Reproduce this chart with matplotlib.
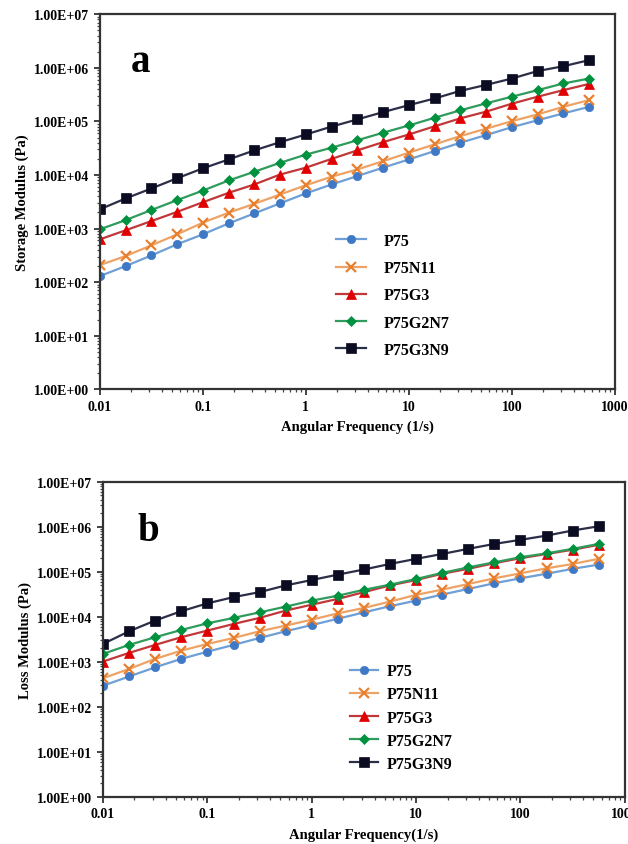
import matplotlib
matplotlib.use('Agg')
import matplotlib.pyplot as plt
from matplotlib.ticker import FuncFormatter, LogLocator, NullFormatter
import numpy as np

plt.rcParams['font.family'] = ['Liberation Serif', 'DejaVu Serif']
plt.rcParams['font.weight'] = 'bold'

# angular frequency, 4 points per decade from 0.01
freq = [0.01, 0.0178, 0.0316, 0.0562, 0.1, 0.178, 0.316, 0.562, 1.0, 1.78,
        3.16, 5.62, 10.0, 17.8, 31.6, 56.2, 100.0, 178.0, 316.0, 562.0]

names = ['P75', 'P75N11', 'P75G3', 'P75G2N7', 'P75G3N9']

# storage modulus (Pa)
g1_p75 = [130, 200, 315, 510, 780, 1250, 1920, 2960, 4540, 6660,
          9570, 13700, 19500, 28000, 40000, 55500, 78000, 105000, 141000, 187000]
g1_p75n11 = [208, 308, 486, 780, 1290, 1980, 2900, 4330, 6440, 9300,
             12700, 18100, 26100, 37300, 53200, 73000, 101000, 135000, 187000, 250000]
g1_p75g3 = [630, 930, 1380, 2050, 3100, 4650, 6660, 10200, 13700, 20000,
            28800, 41000, 57000, 81000, 114000, 152000, 214000, 289000, 383000, 500000]
g1_p75g2n7 = [970, 1440, 2220, 3390, 5120, 7900, 11500, 16900, 24000, 32300,
              44500, 61500, 84000, 117000, 161000, 217000, 289000, 383000, 510000, 630000]
g1_p75g3n9 = [2290, 3650, 5600, 8700, 13300, 19500, 28800, 41000, 57000, 80000,
              109000, 149000, 201000, 268000, 371000, 480000, 630000, 870000, 1070000, 1390000]

# loss modulus (Pa)
g2_p75 = [297, 475, 760, 1170, 1690, 2390, 3400, 4800, 6600, 9100,
          12600, 17300, 23000, 31400, 41800, 56000, 72000, 91000, 117000, 145000]
g2_p75n11 = [434, 700, 1170, 1780, 2510, 3400, 4800, 6400, 8700, 12000,
             15800, 21900, 30900, 40400, 53800, 72000, 93000, 120000, 150000, 195000]
g2_p75g3 = [1020, 1590, 2390, 3540, 4970, 6960, 9500, 13800, 18700, 25100,
            35500, 50000, 66000, 91000, 117000, 156000, 201000, 250000, 310000, 400000]
g2_p75g2n7 = [1510, 2390, 3540, 5130, 7200, 9500, 12600, 16900, 23000, 29600,
              40000, 52000, 69600, 95000, 126000, 163000, 212000, 258000, 325000, 418000]
g2_p75g3n9 = [2510, 4800, 8300, 13400, 20000, 27500, 35500, 50000, 66000, 87000,
              113000, 150000, 195000, 250000, 325000, 418000, 515000, 640000, 830000, 1030000]

storage = [g1_p75, g1_p75n11, g1_p75g3, g1_p75g2n7, g1_p75g3n9]
loss = [g2_p75, g2_p75n11, g2_p75g3, g2_p75g2n7, g2_p75g3n9]

line_colors = ['#6e9fd6', '#eea366', '#c0383a', '#2f9b5c', '#2c2e48']
marker_colors = ['#3f79c6', '#e8802f', '#e00000', '#00923e', '#0b0b22']
markers = ['o', 'x', '^', 'D', 's']
msizes = [6, 6.5, 6.5, 5, 6.5]

fig = plt.figure(figsize=(6.28, 8.45), dpi=100)
ax1 = fig.add_axes([0.159, 0.538, 0.820, 0.444])
ax2 = fig.add_axes([0.164, 0.0556, 0.831, 0.373])


def style_axes(ax, ylabel, xlabel, letter, lx, ly):
    ax.set_xscale('log')
    ax.set_yscale('log')
    ax.set_xlim(0.01, 1000)
    ax.set_ylim(1, 1e7)
    ax.yaxis.set_major_locator(LogLocator(base=10, numticks=10))
    ax.yaxis.set_minor_locator(LogLocator(base=10, subs=np.arange(2, 10), numticks=10))
    ax.xaxis.set_major_locator(LogLocator(base=10, numticks=10))
    ax.xaxis.set_minor_locator(LogLocator(base=10, subs=np.arange(2, 10), numticks=10))
    ax.yaxis.set_major_formatter(FuncFormatter(lambda v, p: f'{v:.2E}'))
    ax.xaxis.set_major_formatter(FuncFormatter(lambda v, p: f'{v:g}'))
    ax.xaxis.set_minor_formatter(NullFormatter())
    ax.yaxis.set_minor_formatter(NullFormatter())
    ax.tick_params(which='major', direction='out', length=4, width=1.2, labelsize=10, colors='#222222')
    ax.tick_params(which='minor', direction='out', length=2.5, width=0.9, colors='#444444')
    for lab in ax.get_xticklabels() + ax.get_yticklabels():
        lab.set_fontweight('bold')
        lab.set_color('black')
    for s in ax.spines.values():
        s.set_linewidth(1.6)
        s.set_color('#333333')
    ax.set_ylabel(ylabel, fontsize=10.5, fontweight='bold', labelpad=4)
    ax.set_xlabel(xlabel, fontsize=10.5, fontweight='bold', labelpad=5)
    ax.text(lx, ly, letter, transform=ax.transAxes, fontsize=28, fontweight='bold',
            ha='center', va='center')


for i in range(5):
    ax1.plot(freq, storage[i], color=line_colors[i], lw=1.6, marker=markers[i],
             ms=msizes[i], mfc=marker_colors[i], mec=marker_colors[i],
             mew=1.6 if markers[i] == 'x' else 0.5, label=names[i])
    ax2.plot(freq, loss[i], color=line_colors[i], lw=1.6, marker=markers[i],
             ms=msizes[i], mfc=marker_colors[i], mec=marker_colors[i],
             mew=1.6 if markers[i] == 'x' else 0.5, label=names[i])

style_axes(ax1, 'Storage Modulus (Pa)', 'Angular Frequency (1/s)', 'a', 0.078, 0.875)
style_axes(ax2, 'Loss Modulus (Pa)', 'Angular Frequency(1/s)', 'b', 0.086, 0.845)

ax1.legend(loc='upper left', bbox_to_anchor=(0.43, 0.455), frameon=False,
           prop={'family': 'Liberation Serif', 'weight': 'bold', 'size': 11.5},
           handlelength=1.9, labelspacing=0.7, handletextpad=1.1)
ax2.legend(loc='upper left', bbox_to_anchor=(0.445, 0.47), frameon=False,
           prop={'family': 'Liberation Serif', 'weight': 'bold', 'size': 11.5},
           handlelength=1.8, labelspacing=0.45, handletextpad=0.5)

fig.savefig('out.png', dpi=100)
